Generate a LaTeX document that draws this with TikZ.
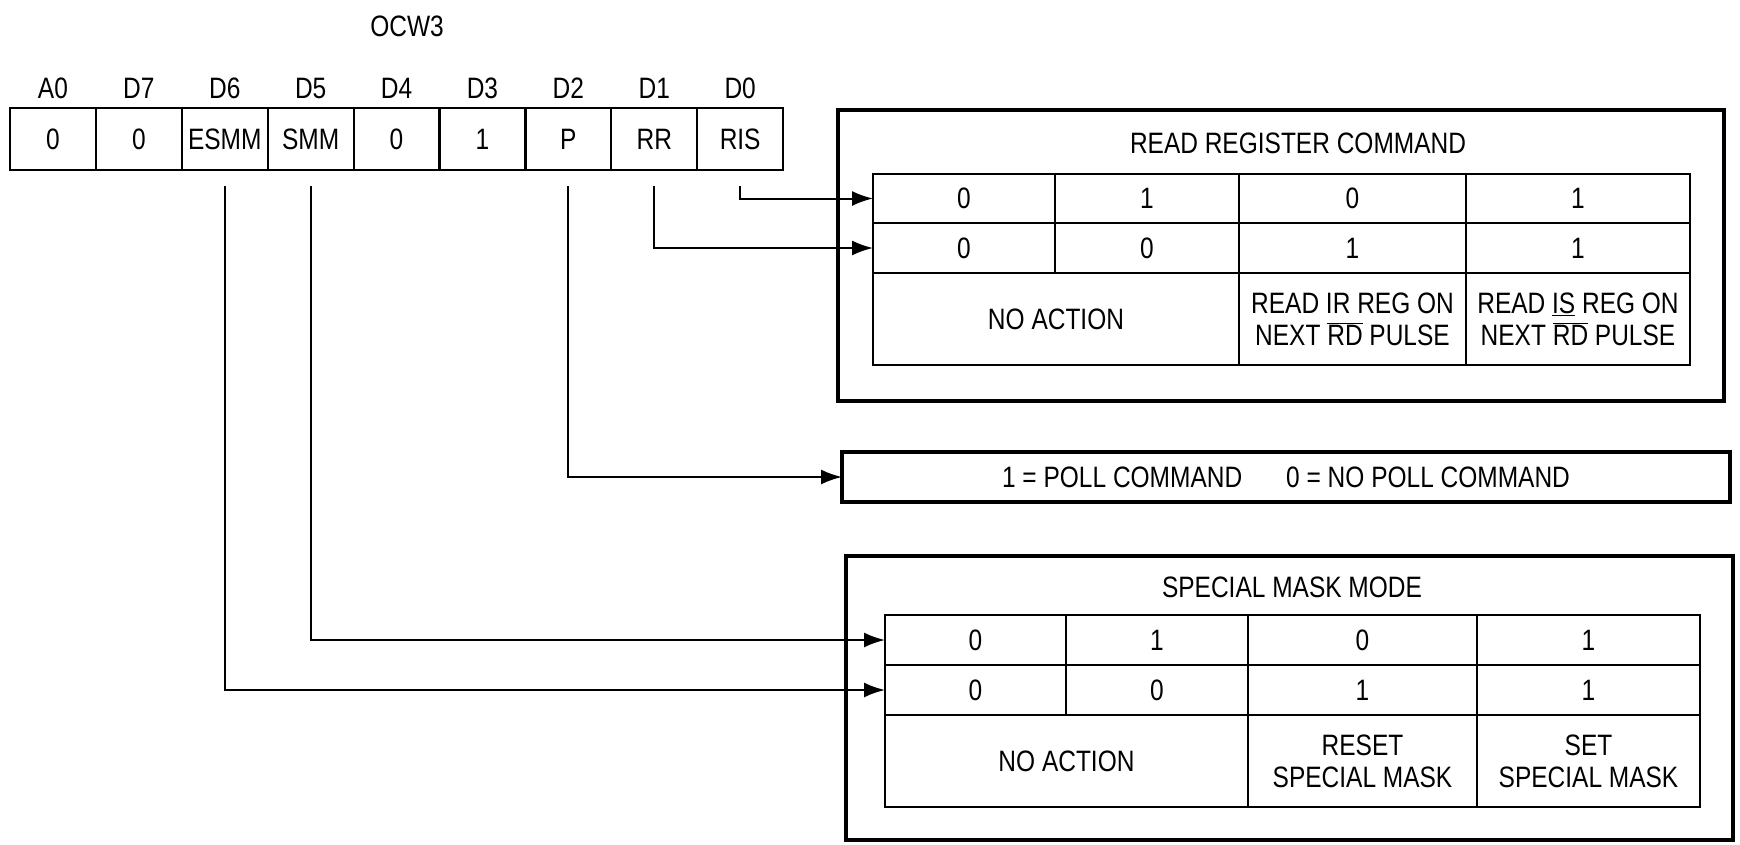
\documentclass[tikz,border=0pt]{standalone}
\usepackage{fontspec}
\setmainfont{Liberation Sans}[FakeStretch=0.83]
\usetikzlibrary{arrows.meta}
\tikzset{
  txt/.style={font=\fontsize{29.5}{32}\selectfont, inner sep=0pt, align=center},
  cellbox/.style={draw, line width=2.2pt, inner sep=0pt, outer sep=0pt, txt},
  outerbox/.style={draw, line width=3.4pt, inner sep=0pt, outer sep=0pt},
  conn/.style={line width=2pt, -{Latex[length=21pt,width=15pt]}},
}
\newcommand{\RDbar}{$\overline{\mbox{RD}}$}
\begin{document}
\begin{tikzpicture}[x=1pt,y=-1pt]
\useasboundingbox (0,0) rectangle (1740,844);
% title
\node[txt] (title) at (407,26) {OCW3};
% register cells
\foreach \i/\n/\t/\l in {0/a0/0/A0,1/d7/0/D7,2/d6/ESMM/D6,3/d5/SMM/D5,4/d4/0/D4,5/d3/1/D3,6/d2/P/D2,7/d1/RR/D1,8/d0/RIS/D0}{
  \node[cellbox, minimum width=85.9pt, minimum height=62pt] (\n) at ({10+85.9*(\i+0.5)},139) {\t};
  \node[txt] (l\n) at ({10+85.9*(\i+0.5)},88) {\l};
}
% READ REGISTER COMMAND box
\node[outerbox, minimum width=886pt, minimum height=291pt] (rrbox) at (1281,255.5) {};
\node[txt] (rrtitle) at (1298,143) {READ REGISTER COMMAND};
\node[cellbox, minimum width=182pt, minimum height=49pt] (ra1) at (964,198.5) {0};
\node[cellbox, minimum width=184pt, minimum height=49pt] (rb1) at (1147,198.5) {1};
\node[cellbox, minimum width=227pt, minimum height=49pt] (rc1) at (1352.5,198.5) {0};
\node[cellbox, minimum width=224pt, minimum height=49pt] (rd1) at (1578,198.5) {1};
\node[cellbox, minimum width=182pt, minimum height=50pt] (ra2) at (964,248) {0};
\node[cellbox, minimum width=184pt, minimum height=50pt] (rb2) at (1147,248) {0};
\node[cellbox, minimum width=227pt, minimum height=50pt] (rc2) at (1352.5,248) {1};
\node[cellbox, minimum width=224pt, minimum height=50pt] (rd2) at (1578,248) {1};
\node[cellbox, minimum width=366pt, minimum height=92pt] (ra3) at (1056,319) {NO ACTION};
\node[cellbox, minimum width=227pt, minimum height=92pt] (rc3) at (1352.5,319) {READ IR REG ON\\NEXT \RDbar{} PULSE};
\node[cellbox, minimum width=224pt, minimum height=92pt] (rd3) at (1578,319) {READ \underline{IS} REG ON\\NEXT \RDbar{} PULSE};
% poll box
\node[outerbox, minimum width=888pt, minimum height=50pt, txt] (poll) at (1286,477) {1 = POLL COMMAND\hspace{44pt}0 = NO POLL COMMAND};
% SPECIAL MASK MODE box
\node[outerbox, minimum width=887pt, minimum height=284pt] (smbox) at (1289.5,698) {};
\node[txt] (smtitle) at (1292,587) {SPECIAL MASK MODE};
\node[cellbox, minimum width=181pt, minimum height=50pt] (sa1) at (975.5,640) {0};
\node[cellbox, minimum width=182pt, minimum height=50pt] (sb1) at (1157,640) {1};
\node[cellbox, minimum width=229pt, minimum height=50pt] (sc1) at (1362.5,640) {0};
\node[cellbox, minimum width=223pt, minimum height=50pt] (sd1) at (1588.5,640) {1};
\node[cellbox, minimum width=181pt, minimum height=50pt] (sa2) at (975.5,690) {0};
\node[cellbox, minimum width=182pt, minimum height=50pt] (sb2) at (1157,690) {0};
\node[cellbox, minimum width=229pt, minimum height=50pt] (sc2) at (1362.5,690) {1};
\node[cellbox, minimum width=223pt, minimum height=50pt] (sd2) at (1588.5,690) {1};
\node[cellbox, minimum width=363pt, minimum height=92pt] (sa3) at (1066.5,761) {NO ACTION};
\node[cellbox, minimum width=229pt, minimum height=92pt] (sc3) at (1362.5,761) {RESET\\SPECIAL MASK};
\node[cellbox, minimum width=223pt, minimum height=92pt] (sd3) at (1588.5,761) {SET\\SPECIAL MASK};
% connectors
\draw[conn] ([yshift=-16pt]d0.south) |- (ra1.west);
\draw[conn] ([yshift=-16pt]d1.south) |- (ra2.west);
\draw[conn] ([yshift=-16pt]d2.south) |- (poll.west);
\draw[conn] ([yshift=-16pt]d5.south) |- (sa1.west);
\draw[conn] ([yshift=-16pt]d6.south) |- (sa2.west);
\end{tikzpicture}
\end{document}
